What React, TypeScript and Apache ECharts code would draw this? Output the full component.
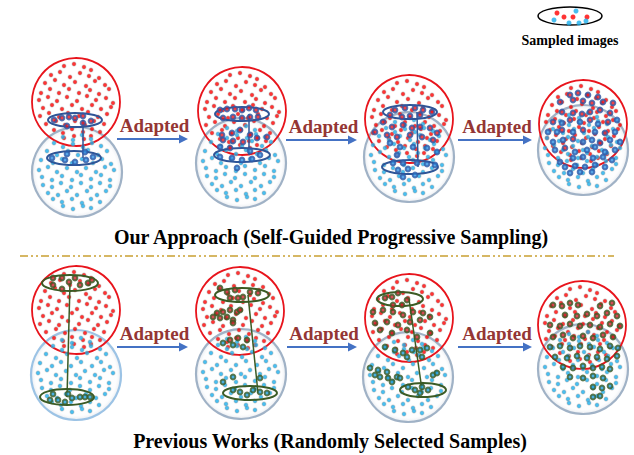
import React, { useEffect, useRef } from "react";
import * as echarts from "echarts";

// circle centres per panel: [redX, redY, blueX, blueY]
const PANELS: number[][] = [
  [76, 102, 77, 172],
  [242, 111, 241, 163],
  [409, 119, 409, 157],
  [583, 124, 583, 150],
  [76, 310, 76, 375],
  [240, 311, 241, 374],
  [409, 318, 408, 377],
  [582, 325, 583, 369],
];
const RED_R = 44;
const BLUE_R = 45;

// background clouds (offsets from circle centre)
const RED_CLOUD: number[][] = [
  [-12, -36], [-2, -38], [8, -35], [15, -32],
  [-25, -27], [-16, -30], [-6, -25], [4, -29], [13, -26], [23, -24],
  [-31, -19], [-21, -22], [-12, -17], [-1, -20], [10, -16], [19, -21], [29, -17],
  [-35, -9], [-26, -13], [-17, -9], [-7, -13], [3, -9], [14, -12], [23, -8], [33, -13],
  [-37, -2], [-28, -5], [-19, -1], [-9, -5], [1, -1], [11, -6], [20, -2], [30, -4], [37, 1],
  [-33, 6], [-24, 3], [-14, 7], [-4, 3], [6, 7], [16, 3], [25, 7], [35, 5],
  [-36, 14], [-27, 11], [-17, 15], [-8, 11], [3, 14], [12, 10], [22, 15], [31, 12],
  [-30, 22], [-20, 19], [-11, 23], [-1, 19], [9, 23], [18, 19], [28, 22],
  [-22, 28], [-13, 31], [-4, 27], [7, 30], [16, 27], [24, 30],
  [-12, 36], [-2, 34], [8, 37], [15, 34],
];
const BLUE_CLOUD: number[][] = [
  [-14, -35], [-4, -32], [5, -37], [14, -33],
  [-23, -29], [-14, -25], [-4, -28], [6, -25], [15, -29], [24, -26],
  [-30, -21], [-20, -17], [-9, -21], [1, -17], [11, -22], [21, -17], [30, -21],
  [-36, -12], [-24, -9], [-15, -13], [-5, -9], [5, -13], [16, -9], [25, -13], [34, -8],
  [-38, -2], [-29, -5], [-20, 0], [-10, -4], [0, 0], [9, -4], [19, 0], [28, -5], [37, -2],
  [-35, 5], [-25, 8], [-15, 4], [-5, 8], [4, 3], [14, 7], [24, 3], [33, 8],
  [-34, 13], [-25, 15], [-16, 11], [-6, 15], [4, 11], [14, 15], [23, 11], [33, 14],
  [-29, 21], [-19, 23], [-10, 19], [0, 23], [10, 19], [20, 23], [29, 19],
  [-24, 27], [-15, 30], [-5, 27], [5, 31], [14, 27], [23, 30],
  [-14, 34], [-4, 37], [6, 34], [14, 36],
];

// sampled images, top row (blue ring)
const TOP_SAMPLES_RED: number[][] = [
  [54, 120], [62, 118], [69, 117], [75, 118], [83, 116], [91, 121], [67, 126], [83, 123],
  [220, 110], [227, 109], [235, 109], [242, 110], [249, 108], [256, 110], [223, 118], [233, 117], [242, 118], [250, 117], [258, 117],
  [222, 135], [232, 133], [240, 130], [250, 135], [223, 140], [233, 141], [243, 142], [257, 138], [267, 137], [230, 148],
  [395, 110], [405, 108], [415, 108], [423, 110], [432, 112], [390, 115], [402, 117], [410, 116], [420, 115],
  [383, 122], [392, 127], [403, 125], [412, 128], [420, 127], [430, 128], [437, 133], [375, 132], [387, 135], [397, 137], [410, 135], [422, 137], [433, 140],
  [570, 95], [578, 93], [588, 95], [598, 97], [560, 102], [573, 100], [583, 101], [592, 103], [603, 102], [613, 103],
  [562, 112], [573, 113], [582, 114], [590, 112], [600, 110], [610, 113],
  [553, 122], [570, 120], [590, 120], [608, 122], [562, 130], [583, 130], [605, 133], [573, 139], [600, 143], [565, 148],
];
const TOP_SAMPLES_BLUE: number[][] = [
  [52, 158], [65, 160], [75, 162], [86, 160], [93, 157], [85, 152], [67, 154],
  [220, 157], [232, 158], [242, 160], [252, 159], [260, 155], [237, 168], [250, 151], [220, 147],
  [390, 143], [400, 147], [413, 147], [427, 148], [437, 152], [397, 155], [393, 163], [403, 163], [417, 163], [427, 164], [435, 165], [398, 170], [408, 169], [403, 177], [415, 175],
  [562, 123], [580, 122], [598, 124], [617, 120], [548, 132], [557, 132], [573, 132], [595, 132], [615, 132],
  [553, 142], [563, 140], [583, 142], [592, 140], [610, 140], [620, 142],
  [555, 150], [575, 152], [587, 150], [595, 147], [605, 152], [615, 150],
  [560, 162], [573, 158], [583, 157], [593, 158], [603, 157], [612, 160],
  [565, 167], [575, 166], [585, 167], [595, 165], [605, 167], [570, 173], [580, 172], [592, 172],
];

// sampled images, bottom row (green ring)
const BOT_SAMPLES_RED: number[][] = [
  [53, 278], [62, 278], [69, 282], [75, 278], [80, 285], [88, 283], [62, 289], [53, 285], [92, 280],
  [227, 292], [235, 290], [243, 297], [250, 292], [258, 293], [230, 298], [238, 298], [220, 288],
  [217, 313], [223, 312], [230, 310], [237, 312], [220, 318], [227, 317], [233, 320], [213, 317], [240, 310], [233, 323],
  [230, 340], [238, 338], [247, 340],
  [385, 298], [392, 297], [398, 293], [407, 300], [393, 305], [402, 305],
  [373, 312], [383, 310], [393, 312], [403, 315], [413, 312], [423, 313], [430, 317], [375, 323], [387, 322], [398, 325], [410, 322], [420, 320],
  [380, 330], [392, 333], [407, 330], [417, 337], [430, 333],
  [553, 305], [562, 306], [570, 303], [578, 305], [600, 306], [612, 303],
  [565, 315], [577, 316], [587, 314], [597, 316], [607, 313], [617, 316],
  [550, 325], [560, 326], [570, 324], [580, 326], [590, 325], [600, 327], [610, 324], [620, 326],
  [553, 337], [563, 335], [573, 338], [583, 336], [593, 338], [603, 335], [613, 337],
];
const BOT_SAMPLES_BLUE: number[][] = [
  [50, 400], [58, 400], [65, 402], [72, 398], [53, 394], [68, 394], [80, 397], [85, 397], [90, 397],
  [233, 345], [223, 343], [243, 347],
  [233, 390], [240, 392], [247, 395], [253, 390], [260, 392], [267, 393], [223, 382], [233, 377], [260, 378],
  [385, 347], [395, 350], [403, 353], [412, 350], [420, 350], [427, 348], [422, 357], [407, 357],
  [370, 368], [378, 370], [387, 372], [397, 377], [380, 377], [388, 378], [400, 378], [392, 382], [375, 375],
  [408, 387], [415, 390], [422, 387], [428, 390], [420, 393], [433, 375], [437, 373],
  [550, 347], [560, 346], [570, 348], [580, 346], [590, 347], [600, 349], [610, 346], [618, 348],
  [555, 357], [567, 358], [577, 356], [587, 358], [597, 357], [607, 359], [617, 356],
  [563, 367], [573, 368], [583, 366], [593, 368], [602, 367], [610, 369],
  [570, 377], [583, 378], [593, 376], [603, 378], [593, 387], [602, 388], [610, 386], [593, 397], [600, 396],
];

// ellipses: [cx, cy, rx, ry]
const TOP_ELLIPSES: number[][] = [
  [75, 120, 27, 7], [74, 158, 27, 7],
  [242, 114, 27, 7], [242, 155, 28, 7],
  [410, 112, 27, 7], [410, 167, 28, 7],
];
const TOP_LINKS: number[][] = [
  [83, 120, 83, 158], [249, 114, 249, 155], [417, 112, 418, 167],
];
const BOT_ELLIPSES: number[][] = [
  [70, 283, 28, 8], [67, 397, 27, 8],
  [242, 295, 27, 7], [250, 393, 27, 7],
  [400, 299, 23, 7], [423, 390, 23, 7],
];
const BOT_LINKS: number[][] = [
  [70, 283, 67, 397], [248, 295, 258, 393], [409, 299, 422, 390],
];

// arrows: [x1, x2, y]
const ARROWS: number[][] = [
  [117, 188, 139], [286, 357, 140], [458, 532, 140],
  [117, 188, 347], [287, 357, 347], [458, 532, 347],
];
const ARROW_LABEL = "Adapted";
const TITLE_TOP = "Our Approach (Self-Guided Progressive Sampling)";
const TITLE_BOTTOM = "Previous Works (Randomly Selected Samples)";
const LEGEND_LABEL = "Sampled images";
const LEGEND_RED: number[][] = [[557, 13], [564, 17], [573, 17], [587, 17]];
const LEGEND_BLUE: number[][] = [[576, 11], [554, 20], [569, 23], [579, 23], [586, 21]];

const SERIF = "Liberation Serif";

function txt(text: string, x: number, y: number, size: number, fill: string) {
  return {
    type: "text",
    z: 3,
    style: {
      text, x, y,
      align: "center",
      verticalAlign: "middle",
      fontFamily: SERIF,
      fontWeight: "bold",
      fontSize: size,
      fill,
    },
  };
}

function buildOption() {
  const redBg: number[][] = [];
  const blueBg: number[][] = [];
  PANELS.forEach((p) => {
    RED_CLOUD.forEach(([dx, dy]) => redBg.push([p[0] + dx, p[1] + dy]));
    BLUE_CLOUD.forEach(([dx, dy]) => blueBg.push([p[2] + dx, p[3] + dy]));
  });

  const graphics: any[] = [];
  PANELS.forEach((p, i) => {
    graphics.push({
      type: "circle",
      z: 1,
      shape: { cx: p[2], cy: p[3], r: BLUE_R },
      style: {
        fill: new echarts.graphic.RadialGradient(0.5, 0.5, 0.5, [
          { offset: 0, color: "rgba(255,255,255,0)" },
          { offset: 0.9, color: "rgba(245,247,250,0.2)" },
          { offset: 1, color: "rgba(205,212,222,0.5)" },
        ]),
        stroke: i === 4 ? "#9CC3E5" : "#A0B2C6",
        lineWidth: 2.2,
      },
    });
    graphics.push({
      type: "circle",
      z: 1,
      shape: { cx: p[0], cy: p[1], r: RED_R },
      style: { fill: "none", stroke: "#E8141C", lineWidth: 1.8 },
    });
  });
  const addEll = (list: number[][], color: string) =>
    list.forEach(([cx, cy, rx, ry]) =>
      graphics.push({
        type: "ellipse",
        z: 3,
        shape: { cx, cy, rx, ry },
        style: { fill: "none", stroke: color, lineWidth: 2 },
      })
    );
  const addLinks = (list: number[][], color: string) =>
    list.forEach(([x1, y1, x2, y2]) =>
      graphics.push({
        type: "line",
        z: 3,
        shape: { x1, y1, x2, y2 },
        style: { stroke: color, lineWidth: 1.5 },
      })
    );
  addEll(TOP_ELLIPSES, "#2F5597");
  addLinks(TOP_LINKS, "#2F5597");
  addEll(BOT_ELLIPSES, "#3B5B25");
  addLinks(BOT_LINKS, "#3B5B25");

  ARROWS.forEach(([x1, x2, y]) => {
    graphics.push({
      type: "line",
      z: 3,
      shape: { x1, y1: y, x2: x2 - 6, y2: y },
      style: { stroke: "#4472C4", lineWidth: 2 },
    });
    graphics.push({
      type: "polygon",
      z: 3,
      shape: { points: [[x2, y], [x2 - 9, y - 4.5], [x2 - 9, y + 4.5]] },
      style: { fill: "#4472C4" },
    });
    graphics.push(txt(ARROW_LABEL, (x1 + x2) / 2 + 2, y - 14, 19, "#943634"));
  });

  graphics.push({
    type: "line",
    z: 1,
    shape: { x1: 20, y1: 256, x2: 614, y2: 256 },
    style: { stroke: "#C9A032", lineWidth: 1.6, lineDash: [8, 3, 2, 3, 2, 3] },
  });
  graphics.push(txt(TITLE_TOP, 331, 237, 20, "#000"));
  graphics.push(txt(TITLE_BOTTOM, 330, 441, 20, "#000"));
  graphics.push({
    type: "ellipse",
    z: 1,
    shape: { cx: 570, cy: 16, rx: 32, ry: 9 },
    style: { fill: "#fff", stroke: "#000", lineWidth: 1.5 },
  });
  graphics.push(txt(LEGEND_LABEL, 570, 40, 14, "#000"));

  const bgStyle = (c: string) => ({
    color: c,
    borderColor: "rgba(150,150,150,0.4)",
    borderWidth: 1.2,
  });
  const sampleStyle = (c: string, ring: string) => ({
    color: c,
    borderColor: ring,
    borderWidth: 1.9,
  });

  return {
    animation: false,
    grid: { left: 0, right: 0, top: 0, bottom: 0, containLabel: false },
    xAxis: { type: "value", min: 0, max: 634, show: false },
    yAxis: { type: "value", min: 0, max: 455, inverse: true, show: false },
    graphic: { elements: graphics },
    series: [
      { type: "scatter", z: 2, symbolSize: 4, data: redBg, itemStyle: bgStyle("#FF0000"), silent: true },
      { type: "scatter", z: 2, symbolSize: 4, data: blueBg, itemStyle: bgStyle("#1AAEEC"), silent: true },
      { type: "scatter", z: 4, symbolSize: 4.8, data: TOP_SAMPLES_RED, itemStyle: sampleStyle("#E8141C", "#2E5AA8"), silent: true },
      { type: "scatter", z: 4, symbolSize: 4.8, data: TOP_SAMPLES_BLUE, itemStyle: sampleStyle("#2F8FE0", "#2E5AA8"), silent: true },
      { type: "scatter", z: 4, symbolSize: 4.8, data: BOT_SAMPLES_RED, itemStyle: sampleStyle("#C8202A", "#3B5B25"), silent: true },
      { type: "scatter", z: 4, symbolSize: 4.8, data: BOT_SAMPLES_BLUE, itemStyle: sampleStyle("#1E9BD7", "#3B5B25"), silent: true },
      { type: "scatter", z: 4, symbolSize: 5, data: LEGEND_RED, itemStyle: { color: "#FF0000" }, silent: true },
      { type: "scatter", z: 4, symbolSize: 5, data: LEGEND_BLUE, itemStyle: { color: "#1AAEEC" }, silent: true },
    ],
  };
}

export default function App() {
  const ref = useRef<HTMLDivElement>(null);
  useEffect(() => {
    document.body.style.margin = "0";
    const chart = echarts.init(ref.current as HTMLDivElement, null, { renderer: "svg" });
    chart.setOption(buildOption() as any);
    return () => chart.dispose();
  }, []);
  return <div ref={ref} style={{ width: 634, height: 455, background: "#fff" }} />;
}
